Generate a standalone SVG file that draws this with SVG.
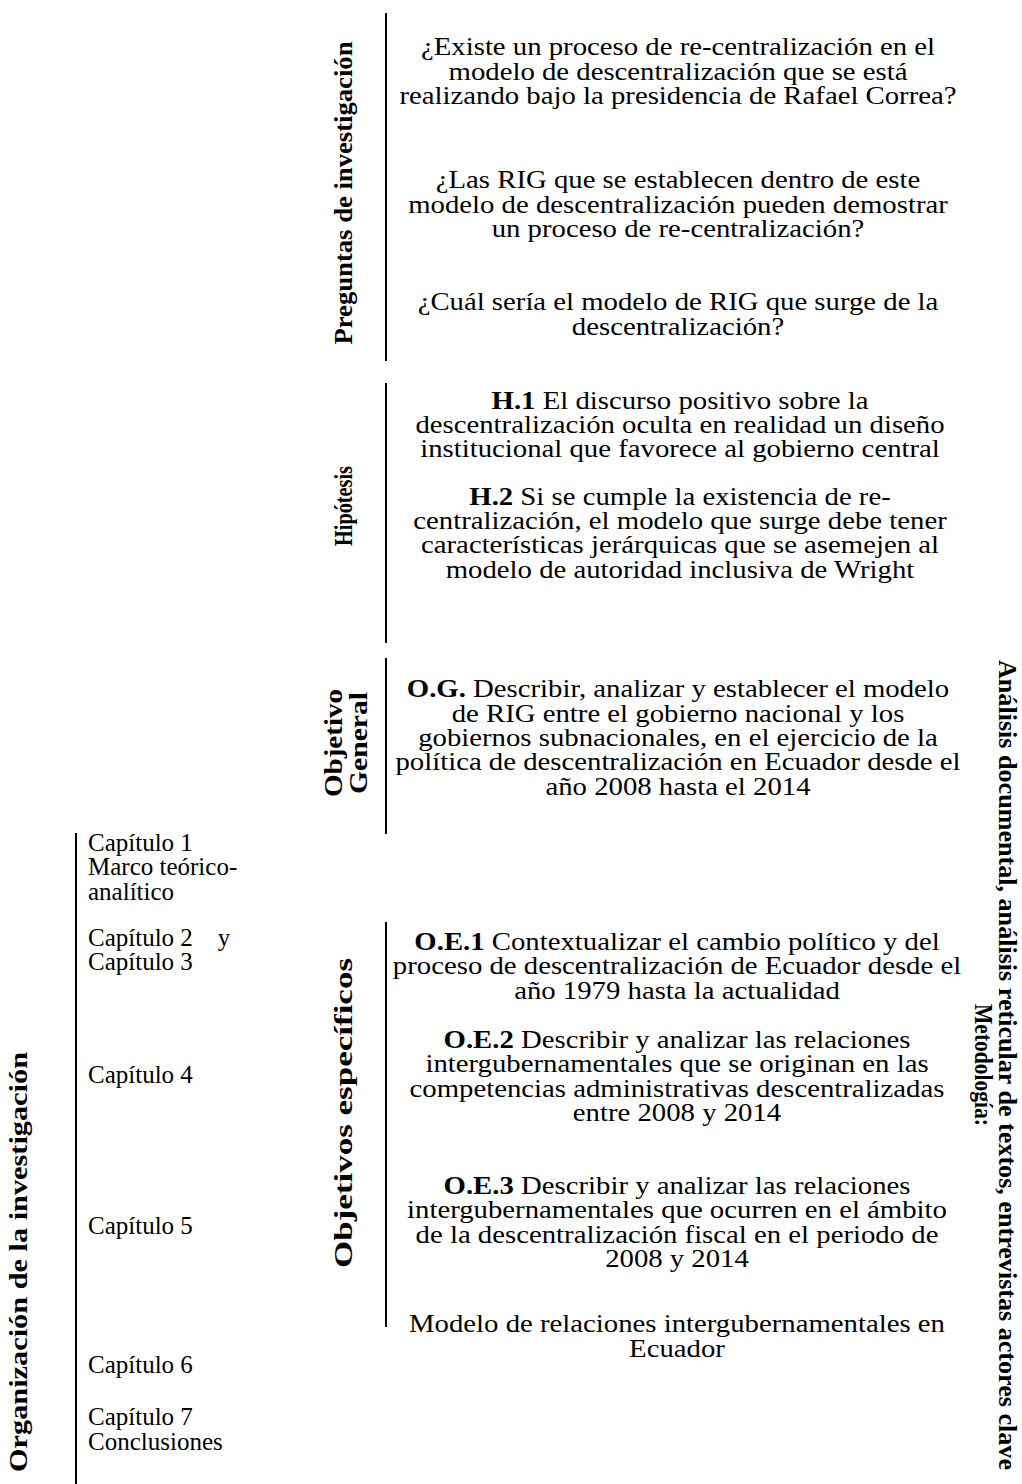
<svg xmlns="http://www.w3.org/2000/svg" width="1022" height="1484" viewBox="0 0 1022 1484">
  <style>
    .body { font-family: "Liberation Serif", "Times New Roman", serif; font-size: 25px; fill: #000; }
    .c { text-anchor: middle; }
    .b { font-weight: bold; }
    .lbl { font-family: "Liberation Serif", "Times New Roman", serif; font-size: 26px; font-weight: bold; fill: #000; text-anchor: middle; }
    .bar { stroke: #000; stroke-width: 2; fill: none; }
  </style>
  <rect width="1022" height="1484" fill="#fff"/>

  <!-- separator bars -->
  <g id="connectors">
    <line class="bar" x1="386" y1="13" x2="386" y2="361"/>
    <line class="bar" x1="386" y1="383" x2="386" y2="643"/>
    <line class="bar" x1="386" y1="658" x2="386" y2="834"/>
    <line class="bar" x1="386" y1="922" x2="386" y2="1327"/>
    <line class="bar" x1="76" y1="833" x2="76" y2="1484"/>
  </g>

  <!-- research questions -->
  <g id="preguntas">
    <text class="lbl" transform="translate(352,193) rotate(-90)" textLength="303" lengthAdjust="spacingAndGlyphs">Preguntas de investigación</text>
    <g class="body c" transform="translate(678,0) scale(1.15,1)">
      <text x="0" y="55">¿Existe un proceso de re-centralización en el</text>
      <text x="0" y="80">modelo de descentralización que se está</text>
      <text x="0" y="104">realizando bajo la presidencia de Rafael Correa?</text>
      <text x="0" y="188">¿Las RIG que se establecen dentro de este</text>
      <text x="0" y="213">modelo de descentralización pueden demostrar</text>
      <text x="0" y="237">un proceso de re-centralización?</text>
      <text x="0" y="310">¿Cuál sería el modelo de RIG que surge de la</text>
      <text x="0" y="335">descentralización?</text>
    </g>
  </g>

  <!-- hypotheses -->
  <g id="hipotesis">
    <text class="lbl" transform="translate(352,506) rotate(-90)" textLength="80" lengthAdjust="spacingAndGlyphs">Hipótesis</text>
    <g class="body c" transform="translate(680,0) scale(1.15,1)">
      <text x="0" y="409"><tspan class="b">H.1</tspan> El discurso positivo sobre la</text>
      <text x="0" y="433">descentralización oculta en realidad un diseño</text>
      <text x="0" y="457">institucional que favorece al gobierno central</text>
      <text x="0" y="505"><tspan class="b">H.2</tspan> Si se cumple la existencia de re-</text>
      <text x="0" y="529">centralización, el modelo que surge debe tener</text>
      <text x="0" y="553">características jerárquicas que se asemejen al</text>
      <text x="0" y="578">modelo de autoridad inclusiva de Wright</text>
    </g>
  </g>

  <!-- general objective -->
  <g id="objetivo-general">
    <text class="lbl" transform="translate(342,743) rotate(-90)" textLength="108" lengthAdjust="spacingAndGlyphs">Objetivo</text>
    <text class="lbl" transform="translate(367,743) rotate(-90)" textLength="102" lengthAdjust="spacingAndGlyphs">General</text>
    <g class="body c" transform="translate(678,0) scale(1.15,1)">
      <text x="0" y="697"><tspan class="b">O.G.</tspan> Describir, analizar y establecer el modelo</text>
      <text x="0" y="722">de RIG entre el gobierno nacional y los</text>
      <text x="0" y="746">gobiernos subnacionales, en el ejercicio de la</text>
      <text x="0" y="770">política de descentralización en Ecuador desde el</text>
      <text x="0" y="795">año 2008 hasta el 2014</text>
    </g>
  </g>

  <!-- specific objectives -->
  <g id="objetivos-especificos">
    <text class="lbl" transform="translate(352,1113) rotate(-90)" textLength="310" lengthAdjust="spacingAndGlyphs">Objetivos específicos</text>
    <g class="body c" transform="translate(677,0) scale(1.15,1)">
      <text x="0" y="950"><tspan class="b">O.E.1</tspan> Contextualizar el cambio político y del</text>
      <text x="0" y="974">proceso de descentralización de Ecuador desde el</text>
      <text x="0" y="999">año 1979 hasta la actualidad</text>
      <text x="0" y="1048"><tspan class="b">O.E.2</tspan> Describir y analizar las relaciones</text>
      <text x="0" y="1072">intergubernamentales que se originan en las</text>
      <text x="0" y="1097">competencias administrativas descentralizadas</text>
      <text x="0" y="1121">entre 2008 y 2014</text>
      <text x="0" y="1194"><tspan class="b">O.E.3</tspan> Describir y analizar las relaciones</text>
      <text x="0" y="1218">intergubernamentales que ocurren en el ámbito</text>
      <text x="0" y="1243">de la descentralización fiscal en el periodo de</text>
      <text x="0" y="1267">2008 y 2014</text>
    </g>
  </g>

  <!-- resulting model -->
  <g id="modelo">
    <g class="body c" transform="translate(677,0) scale(1.15,1)">
      <text x="0" y="1332">Modelo de relaciones intergubernamentales en</text>
      <text x="0" y="1357">Ecuador</text>
    </g>
  </g>

  <!-- thesis organisation -->
  <g id="organizacion">
    <text class="lbl" transform="translate(27,1262) rotate(-90)" textLength="420" lengthAdjust="spacingAndGlyphs">Organización de la investigación</text>
    <g class="body">
      <text x="88" y="851">Capítulo 1</text>
      <text x="88" y="875">Marco teórico-</text>
      <text x="88" y="900">analítico</text>
      <text x="88" y="946" xml:space="preserve">Capítulo 2    y</text>
      <text x="88" y="970">Capítulo 3</text>
      <text x="88" y="1083">Capítulo 4</text>
      <text x="88" y="1234">Capítulo 5</text>
      <text x="88" y="1373">Capítulo 6</text>
      <text x="88" y="1425">Capítulo 7</text>
      <text x="88" y="1450">Conclusiones</text>
    </g>
  </g>

  <!-- methodology -->
  <g id="metodologia">
    <text class="lbl" transform="translate(975,1065) rotate(90)" textLength="122" lengthAdjust="spacingAndGlyphs">Metodología:</text>
    <text class="lbl" transform="translate(999,1065) rotate(90)" textLength="810" lengthAdjust="spacingAndGlyphs">Análisis documental, análisis reticular de textos, entrevistas actores clave</text>
  </g>
</svg>
